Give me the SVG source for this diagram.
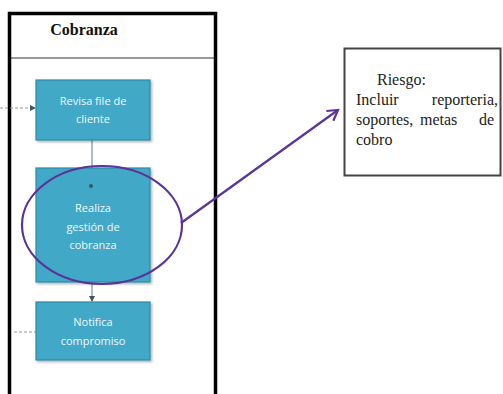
<svg xmlns="http://www.w3.org/2000/svg" width="503" height="394" viewBox="0 0 503 394">
<defs>
<style>
.box{fill:#42a8c8;stroke:#2f8aa6;stroke-width:1.2}
.bt{font-family:"Open Sans","Liberation Sans",sans-serif;font-size:11px;fill:#eef8fb;text-anchor:middle}
.conn{stroke:#5a7a86;stroke-width:1;fill:none}
.dash{stroke:#8a9aa0;stroke-width:1;stroke-dasharray:3 2;fill:none}
.rt{font-family:"Liberation Serif","Times New Roman",serif;font-size:16px;fill:#222}
.end{text-anchor:end}
.title{font-family:"Liberation Serif","Times New Roman",serif;font-size:16px;font-weight:bold;fill:#111;text-anchor:middle}
</style>
<marker id="ah" markerWidth="6" markerHeight="6" refX="5" refY="3" orient="auto" markerUnits="userSpaceOnUse">
<path d="M0,0 L6,3 L0,6 z" fill="#3d5560"/>
</marker>
<marker id="pa" markerWidth="14" markerHeight="14" refX="11" refY="7" orient="auto" markerUnits="userSpaceOnUse">
<path d="M1,1 L11,7 L1,13" fill="none" stroke="#5b3497" stroke-width="2.2"/>
</marker>
<filter id="sh" x="-10%" y="-10%" width="130%" height="130%">
<feDropShadow dx="1.5" dy="1.5" stdDeviation="1" flood-color="#000" flood-opacity="0.3"/>
</filter>
</defs>
<rect width="503" height="394" fill="#ffffff"/>
<g id="lane">
<rect x="9.5" y="13.5" width="206" height="400" fill="none" stroke="#000" stroke-width="3.5"/>
<line x1="11" y1="58" x2="214" y2="58" stroke="#333" stroke-width="1"/>
<text class="title" x="84" y="35">Cobranza</text>
</g>
<g id="connectors">
<line class="dash" x1="0" y1="108" x2="35" y2="108" marker-end="url(#ah)"/>
<line class="dash" x1="14" y1="332" x2="36" y2="332"/>
<line class="conn" x1="92" y1="140" x2="92" y2="188" marker-end="url(#ah)"/>
<line class="conn" x1="92" y1="282" x2="92" y2="301" marker-end="url(#ah)"/>
</g>
<g id="n1">
<rect class="box" x="36" y="80" width="114" height="60" filter="url(#sh)"/>
<text class="bt" x="93" y="105">Revisa file de</text>
<text class="bt" x="93" y="123">cliente</text>
</g>
<g id="n2">
<rect class="box" x="36" y="168" width="114" height="114" filter="url(#sh)"/>
<circle cx="91" cy="186" r="2" fill="#3d5560"/>
<text class="bt" x="93" y="212">Realiza</text>
<text class="bt" x="93" y="231">gestión de</text>
<text class="bt" x="93" y="249">cobranza</text>
</g>
<g id="n3">
<rect class="box" x="36" y="302" width="114" height="58" filter="url(#sh)"/>
<text class="bt" x="93" y="326">Notifica</text>
<text class="bt" x="93" y="345">compromiso</text>
</g>
<g id="highlight">
<ellipse cx="102" cy="225" rx="80" ry="59" fill="none" stroke="#5b3497" stroke-width="2.2"/>
<line x1="181" y1="223" x2="338" y2="110" stroke="#5b3497" stroke-width="2.2" marker-end="url(#pa)"/>
</g>
<g id="note">
<rect x="344.5" y="48.5" width="156" height="127" fill="#fff" stroke="#444" stroke-width="2"/>
<text class="rt" x="377" y="85">Riesgo:</text>
<text class="rt" x="356" y="105">Incluir</text>
<text class="rt end" x="498" y="105">reporteria,</text>
<text class="rt" x="356" y="125">soportes,</text>
<text class="rt" x="420" y="125">metas</text>
<text class="rt end" x="494" y="125">de</text>
<text class="rt" x="356" y="145">cobro</text>
</g>
</svg>
